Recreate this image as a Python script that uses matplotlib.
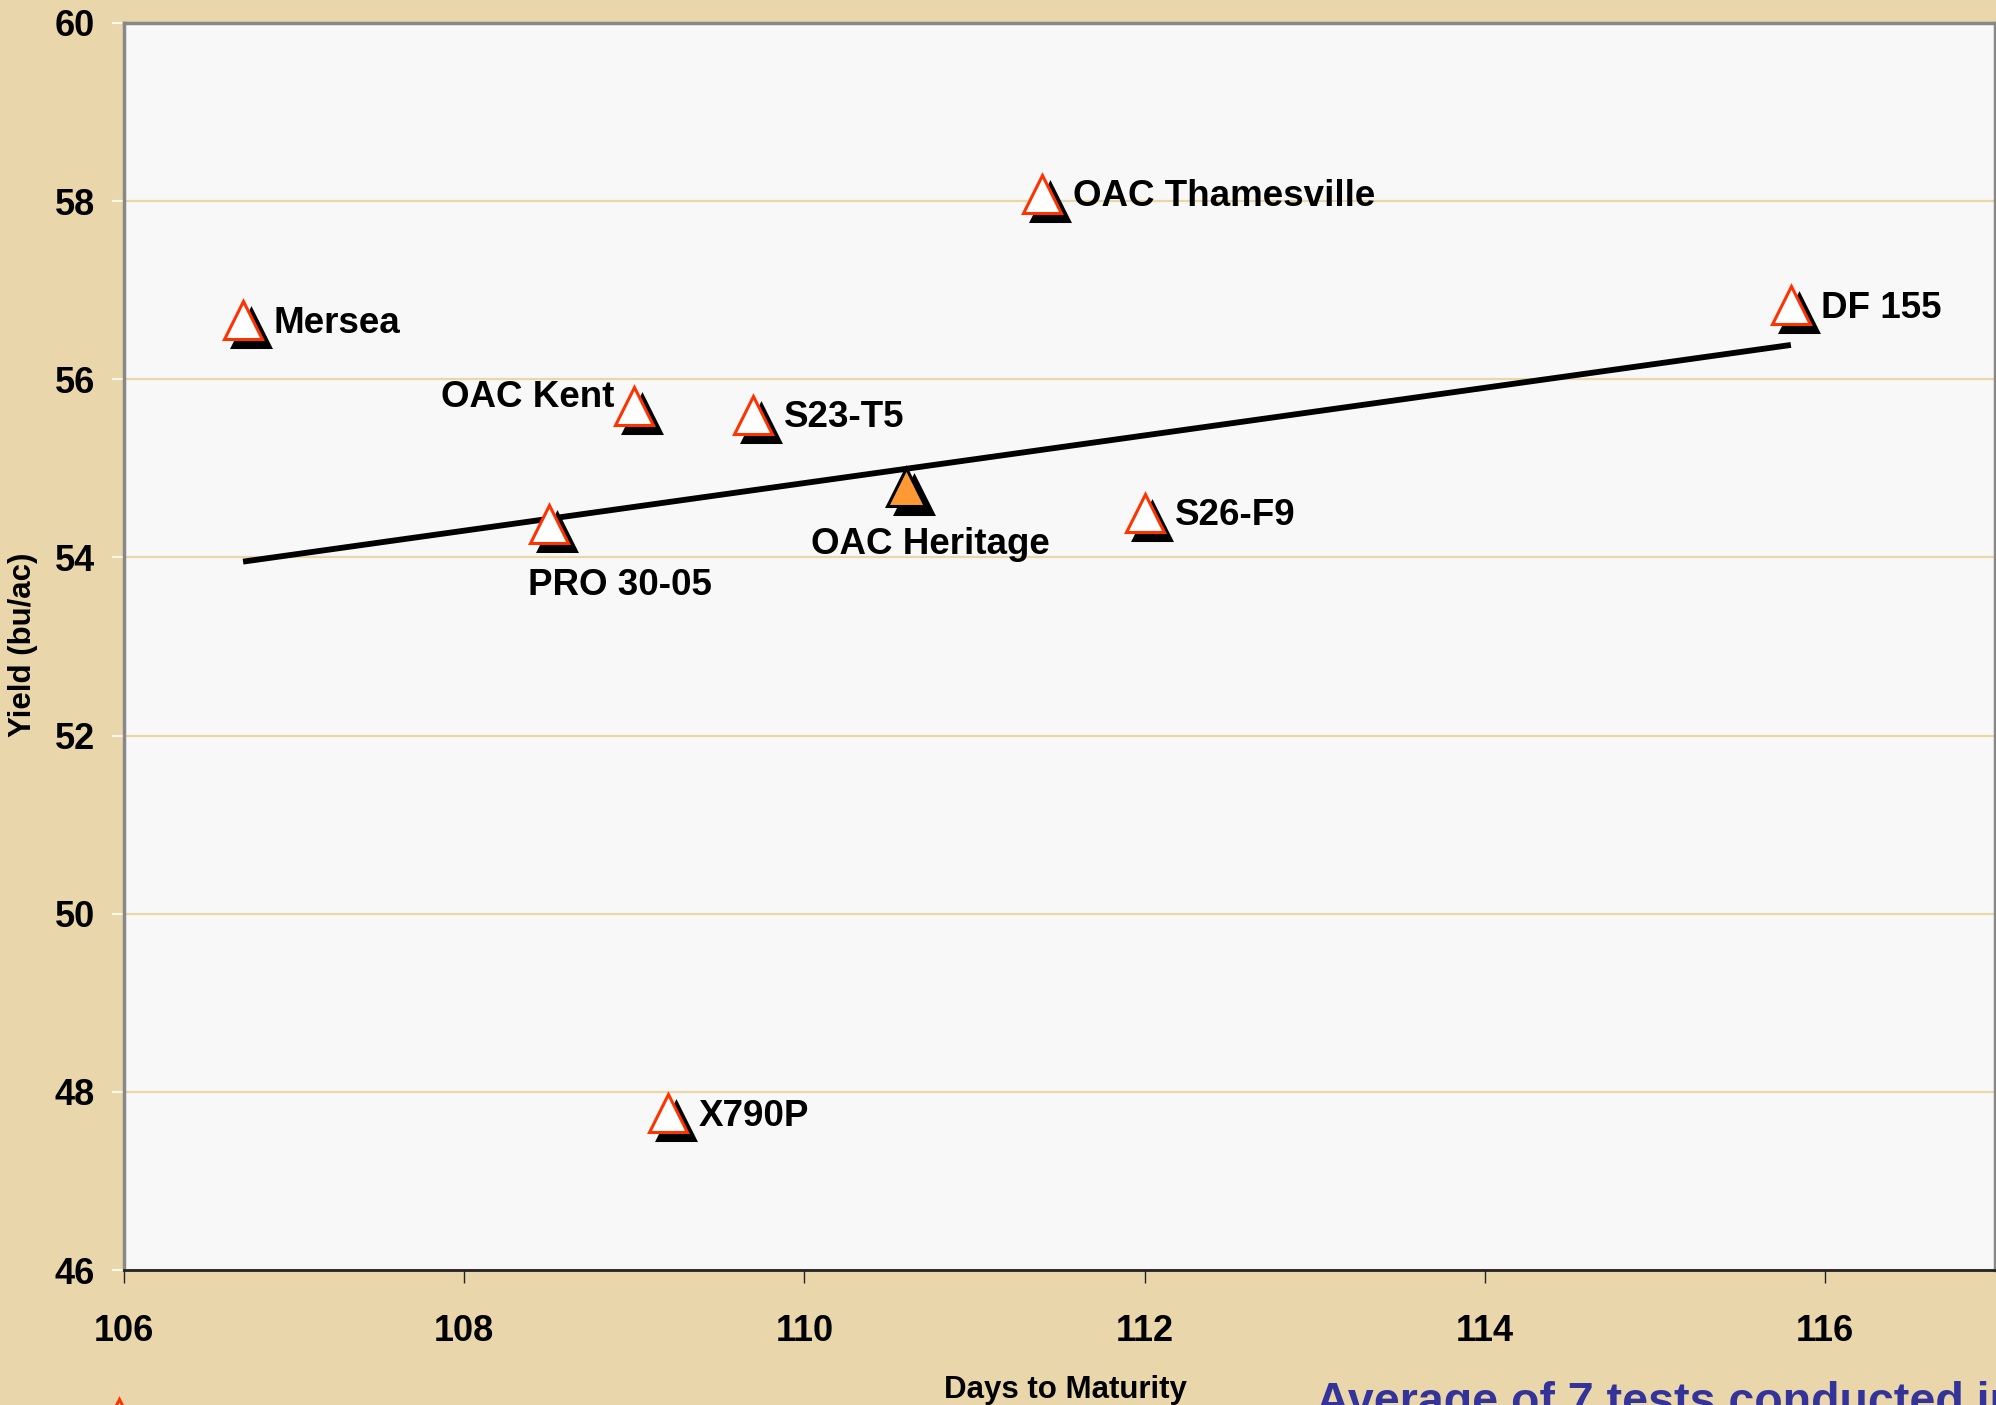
import matplotlib
matplotlib.use('Agg')
import matplotlib.pyplot as plt
import matplotlib.transforms as mtransforms
from matplotlib.lines import Line2D
import numpy as np

plt.rcParams['font.family'] = ['Liberation Sans', 'DejaVu Sans']
plt.rcParams['font.weight'] = 'bold'

# ── data: soybean varieties, days to maturity vs yield ──────────────────────
varieties = ['Mersea', 'OAC Kent', 'S23-T5', 'PRO 30-05', 'OAC Heritage',
             'S26-F9', 'OAC Thamesville', 'DF 155', 'X790P']
days      = [106.7, 109.0, 109.7, 108.5, 110.6, 112.0, 111.4, 115.8, 109.2]
yields    = [56.66, 55.7, 55.6, 54.37, 54.79, 54.5, 58.08, 56.83, 47.76]
check     = 'OAC Heritage'

x_ticks = [106, 108, 110, 112, 114, 116]
y_ticks = [46, 48, 50, 52, 54, 56, 58, 60]

BG      = '#EAD6AB'
PLOT_BG = '#F8F8F8'
GRID    = '#E9D7A6'
RED     = '#FF3300'
ORANGE  = '#FF9933'
BLUE    = '#333399'

# label offsets in points (dx, dy, ha, va)
label_pos = {
    'Mersea':          (22, -2, 'left', 'center'),
    'OAC Kent':        (-14, 6, 'right', 'center'),
    'S23-T5':          (22, -2, 'left', 'center'),
    'PRO 30-05':       (51, -44, 'center', 'center'),
    'OAC Heritage':    (17, -41, 'center', 'center'),
    'S26-F9':          (22, -2, 'left', 'center'),
    'OAC Thamesville': (22, -2, 'left', 'center'),
    'DF 155':          (22, -2, 'left', 'center'),
    'X790P':           (22, -2, 'left', 'center'),
}

W, H = 1996, 1405
fig = plt.figure(figsize=(W / 100, H / 100), dpi=100, facecolor=BG)
ax = fig.add_axes([124 / W, 1 - 1270 / H, (1995 - 124) / W, (1270 - 23) / H])
ax.set_facecolor(PLOT_BG)
ax.set_xlim(106, 117)
ax.set_ylim(46, 60)
ax.set_xticks(x_ticks)
ax.set_yticks(y_ticks)
ax.yaxis.grid(True, color=GRID, linewidth=1.6, zorder=0)
ax.set_axisbelow(True)

for side in ['top', 'right', 'left']:
    ax.spines[side].set_color('#888888')
    ax.spines[side].set_linewidth(2.5)
ax.spines['bottom'].set_color('#222222')
ax.spines['bottom'].set_linewidth(2)

ax.tick_params(axis='x', direction='out', length=9, width=1, color='#222222',
               labelsize=26, pad=23)
ax.tick_params(axis='y', direction='out', length=9, width=1.5, color='#FFF8E6',
               labelsize=26, pad=12)
for lbl in ax.get_xticklabels() + ax.get_yticklabels():
    lbl.set_fontweight('bold')

# trend line (linear fit over all varieties)
slope, intercept = np.polyfit(days, yields, 1)
xs = np.array([min(days), max(days)])
ax.plot(xs, slope * xs + intercept, color='black', linewidth=4.2, zorder=2,
        solid_capstyle='butt')

shadow = ax.transData + mtransforms.ScaledTranslation(5.5 / 72, -5.5 / 72, fig.dpi_scale_trans)

for name, x, y in zip(varieties, days, yields):
    face = ORANGE if name == check else 'white'
    edge = 'black' if name == check else RED
    ax.plot([x], [y], marker='^', markersize=27, markerfacecolor='black',
            markeredgecolor='black', markeredgewidth=2.2, linestyle='none',
            transform=shadow, zorder=3)
    ax.plot([x], [y], marker='^', markersize=27, markerfacecolor=face,
            markeredgecolor=edge, markeredgewidth=2.2, linestyle='none', zorder=4)
    dx, dy, ha, va = label_pos[name]
    ax.annotate(name, xy=(x, y), xytext=(dx, dy), textcoords='offset points',
                ha=ha, va=va, fontsize=26.5, fontweight='bold', color='black',
                zorder=5)

# axis titles
fig.text(23 / W, 1 - 645 / H, 'Yield (bu/ac)', rotation=90, ha='center',
         va='center', fontsize=22.5, fontweight='bold')
fig.text(1065 / W, (H - 1398) / H, 'Days to Maturity', ha='center',
         va='baseline', fontsize=22.5, fontweight='bold')

# footnote (cut off at the bottom in the original)
fig.text(1316 / W, (H - 1415) / H, 'Average of 7 tests conducted in 2005',
         ha='left', va='baseline', fontsize=33.5, fontweight='bold', color=BLUE)

# legend key peeking in at the bottom left
fig.add_artist(Line2D([119 / W], [(H - 1418) / H], marker='^', markersize=27,
                      markerfacecolor='white', markeredgecolor=RED,
                      markeredgewidth=2.2, linestyle='none',
                      transform=fig.transFigure))

fig.savefig('out.png', dpi=100, facecolor=BG)
